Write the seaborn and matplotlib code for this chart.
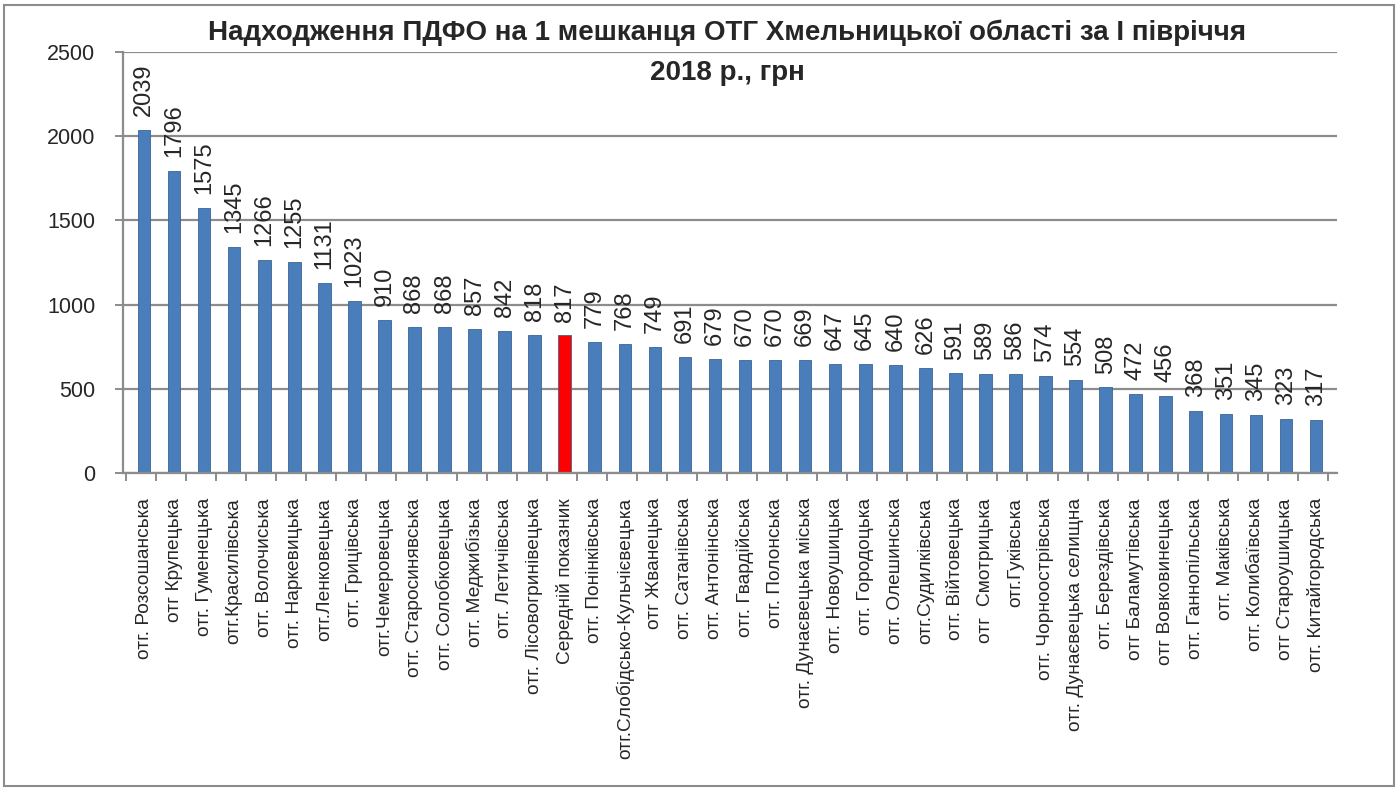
import matplotlib
matplotlib.use("Agg")
import matplotlib.pyplot as plt
import numpy as np
import pandas as pd
import seaborn as sns
from matplotlib.patches import Rectangle

sns.set_theme(style="white")
plt.rcParams['font.family'] = ['Liberation Sans', 'DejaVu Sans']

# values
names = [
    "отг. Розсошанська", "отг Крупецька", "отг. Гуменецька", "отг.Красилівська",
    "отг. Волочиська", "отг. Наркевицька", "отг.Ленковецька", "отг. Грицівська",
    "отг.Чемеровецька", "отг. Старосинявська", "отг. Солобковецька",
    "отг. Меджибізька", "отг. Летичівська", "отг. Лісовогринівецька",
    "Середній показник", "отг. Понінківська", "отг.Слобідсько-Кульчієвецька",
    "отг Жванецька", "отг. Сатанівська", "отг. Антонінська", "отг. Гвардійська",
    "отг. Полонська", "отг. Дунаєвецька міська", "отг. Новоушицька",
    "отг. Городоцька", "отг. Олешинська", "отг.Судилківська", "отг. Війтовецька",
    "отг  Смотрицька", "отг.Гуківська", "отг. Чорноострівська",
    "отг. Дунаєвецька селищна", "отг. Берездівська", "отг Баламутівська",
    "отг Вовковинецька", "отг. Ганнопільська", "отг. Маківська",
    "отг. Колибаївська", "отг Староушицька", "отг. Китайгородська",
]
values = [2039, 1796, 1575, 1345, 1266, 1255, 1131, 1023, 910, 868, 868, 857,
          842, 818, 817, 779, 768, 749, 691, 679, 670, 670, 669, 647, 645, 640,
          626, 591, 589, 586, 574, 554, 508, 472, 456, 368, 351, 345, 323, 317]
highlight = "Середній показник"

title = "Надходження ПДФО на 1 мешканця ОТГ Хмельницької області за І півріччя\n2018 р., грн"

df = pd.DataFrame({"name": names, "value": values})
colors = {n: ("#ff0000" if n == highlight else "#4a7ebb") for n in names}

fig = plt.figure(figsize=(13.99, 7.92), dpi=100)
ax = fig.add_axes([123/1399, 1 - 473/792, (1337 - 123)/1399, (473 - 52)/792])

sns.barplot(data=df, x="name", y="value", hue="name", palette=colors,
            legend=False, width=0.42, saturation=1, edgecolor="#3a6597",
            linewidth=0.6, ax=ax)

for i, v in enumerate(values):
    ax.annotate(str(v), (i, v), xytext=(0, 10), textcoords="offset points",
                rotation=90, ha="center", va="bottom", fontsize=17)

ax.set_xlim(-0.7, 39.7)
ax.set_ylim(0, 2500)
ax.set_yticks(range(0, 2501, 500))
ax.set_xlabel("")
ax.set_ylabel("")
ax.yaxis.grid(True, color="#8c8c8c", linewidth=1.6)
ax.set_axisbelow(True)

ax.set_xticks(range(len(names)))
ax.set_xticklabels(names, rotation=90, fontsize=13.8)
ax.set_xticks(np.arange(len(names) + 1) - 0.6, minor=True)
ax.tick_params(axis="x", which="major", length=0, pad=18)
ax.tick_params(axis="x", which="minor", length=6, width=1.4, color="#8c8c8c",
               direction="out")
ax.tick_params(axis="y", length=6, width=1.4, color="#8c8c8c", pad=14,
               labelsize=15.5, direction="out")
ax.tick_params(bottom=True, left=True, which="both")

for side in ["top", "right"]:
    ax.spines[side].set_visible(False)
for side in ["left", "bottom"]:
    ax.spines[side].set_color("#8c8c8c")
    ax.spines[side].set_linewidth(1.6)

fig.text(0.52, 0.975, title, ha="center", va="top", fontsize=20,
         fontweight="bold", linespacing=1.7)

fig.patches.append(Rectangle((4/1399, 6/792), 1390/1399, 781/792,
                             transform=fig.transFigure, fill=False,
                             edgecolor="#8c8c8c", linewidth=1.5))

fig.savefig("out.png", dpi=100)
